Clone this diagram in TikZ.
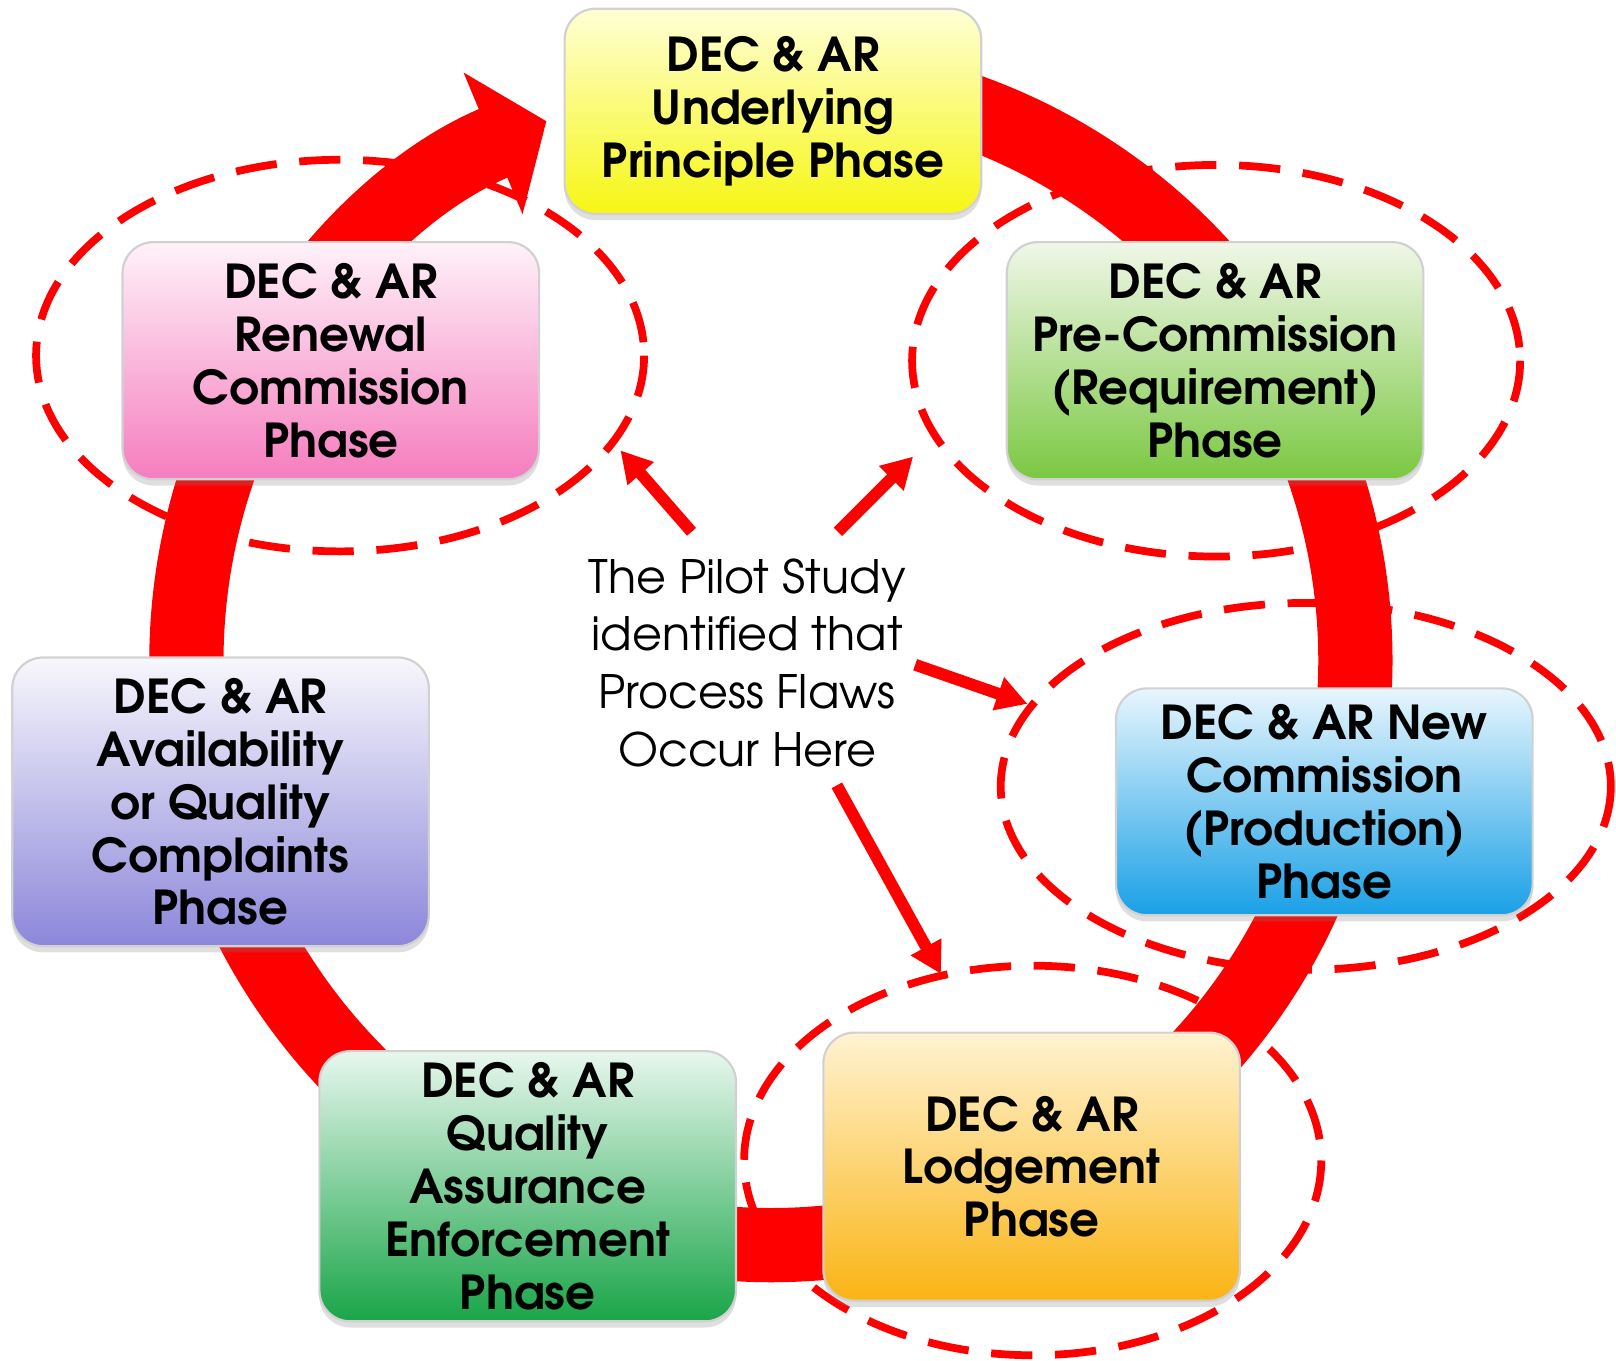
\documentclass[tikz,border=0pt]{standalone}
\usepackage{fontspec}
\setmainfont{texgyreadventor}[Extension=.otf, UprightFont=*-regular, BoldFont=*-bold]
\usetikzlibrary{arrows.meta}
\usetikzlibrary{shadows}

\definecolor{ylwtop}{RGB}{255,255,214}
\definecolor{ylwbot}{RGB}{246,246,20}
\definecolor{pnktop}{RGB}{255,242,249}
\definecolor{pnkbot}{RGB}{245,125,190}
\definecolor{limtop}{RGB}{240,247,232}
\definecolor{limbot}{RGB}{122,200,66}
\definecolor{blutop}{RGB}{232,246,253}
\definecolor{blubot}{RGB}{25,160,230}
\definecolor{orgtop}{RGB}{255,243,210}
\definecolor{orgbot}{RGB}{250,180,20}
\definecolor{grntop}{RGB}{232,247,238}
\definecolor{grnbot}{RGB}{25,165,72}
\definecolor{prptop}{RGB}{248,247,252}
\definecolor{prpbot}{RGB}{140,135,218}

\tikzset{
    phase/.style={rounded corners=0.3cm, draw=black!18, line width=0.6pt,
        minimum width=4.04cm, inner sep=0pt, align=center,
        font=\bfseries\fontsize{12.9}{14.6}\selectfont,
        drop shadow={opacity=0.25, shadow xshift=0pt, shadow yshift=-0.06cm}},
    flawring/.style={red, line width=0.075cm, dash pattern=on 0.4cm off 0.22cm},
    flaw/.style={red, line width=0.115cm, -{Triangle[width=0.32cm, length=0.3cm]}},
}

\begin{document}
\begin{tikzpicture}[x=0.01cm, y=-0.01cm]
    \useasboundingbox (0,0) rectangle (1568,1320);
    % the cycle
    \draw[red, line width=0.72cm, -{Triangle[width=1.46cm, length=0.56cm]}]
        (748,641) ++(-75:567) arc[start angle=-75, end angle=247.4, radius=567];
    % rings round the flawed phases
    \draw[flawring] (330,345) ellipse [x radius=295, y radius=190];
    \draw[flawring] (1180,350) ellipse [x radius=295, y radius=190];
    \draw[flawring] (1267,763) ellipse [x radius=296, y radius=178];
    \draw[flawring] (1002,1126) ellipse [x radius=280, y radius=189];
    % phases
    \node[phase, top color=ylwtop, bottom color=ylwbot, minimum height=1.99cm] (principle) at (750,108) {DEC \& AR\\Underlying\\Principle Phase};
    \node[phase, top color=limtop, bottom color=limbot, minimum height=2.3cm] (precomm) at (1179,350) {DEC \& AR\\Pre-Commission\\(Requirement)\\Phase};
    \node[phase, top color=blutop, bottom color=blubot, minimum height=2.2cm] (newcomm) at (1285,778) {DEC \& AR New\\Commission\\(Production)\\Phase};
    \node[phase, top color=orgtop, bottom color=orgbot, minimum height=2.6cm] (lodge) at (1001,1132) {DEC \& AR\\Lodgement\\Phase};
    \node[phase, top color=grntop, bottom color=grnbot, minimum height=2.62cm] (quality) at (512,1151) {DEC \& AR\\Quality\\Assurance\\Enforcement\\Phase};
    \node[phase, top color=prptop, bottom color=prpbot, minimum height=2.8cm] (avail) at (214,778) {DEC \& AR\\Availability\\or Quality\\Complaints\\Phase};
    \node[phase, top color=pnktop, bottom color=pnkbot, minimum height=2.3cm] (renew) at (321,350) {DEC \& AR\\Renewal\\Commission\\Phase};
    % finding
    \node[align=center, font=\fontsize{12.7}{15.9}\selectfont] (note) at (725,643) {The Pilot Study\\identified that\\Process Flaws\\Occur Here};
    \coordinate (fromA) at (671,516);
    \coordinate (toRenew) at (602,437);
    \coordinate (fromB) at (813,516);
    \coordinate (toPre) at (886,443);
    \coordinate (fromC) at (888,645);
    \coordinate (toNew) at (997,683);
    \coordinate (fromD) at (812,762);
    \coordinate (toLodge) at (913,945);
    \draw[flaw] (fromA) -- (toRenew);
    \draw[flaw] (fromB) -- (toPre);
    \draw[flaw] (fromC) -- (toNew);
    \draw[flaw] (fromD) -- (toLodge);
\end{tikzpicture}
\end{document}
